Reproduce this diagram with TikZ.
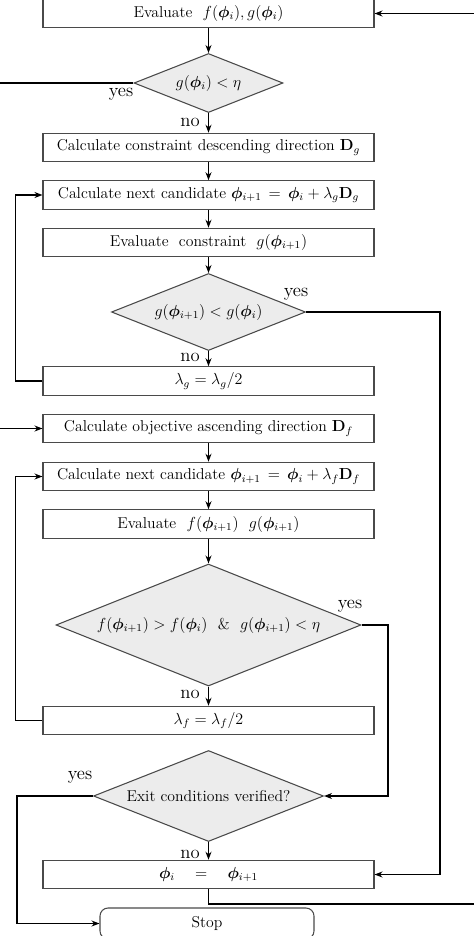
\documentclass[tikz,border=0pt]{standalone}
\usepackage{amsmath,bm}
\usetikzlibrary{shapes.geometric,arrows.meta}
\definecolor{boxgray}{HTML}{4A4A4A}
\definecolor{dfill}{HTML}{ECECEC}
\begin{document}
\begin{tikzpicture}[x=0.75pt,y=-0.75pt,
  font=\fontsize{11.8}{14}\selectfont,
  stepbox/.style={draw=boxgray,line width=0.8pt,fill=white,minimum width={331*0.75pt},minimum height={28.5*0.75pt},inner sep=0pt},
  decbox/.style={diamond,draw=boxgray,line width=0.8pt,fill=dfill,inner sep=0pt},
  conn/.style={line width=0.9pt,black},
  arr/.style={conn,-{Stealth[length=6pt,width=4.5pt]}},
  lbl/.style={font=\fontsize{14}{16}\selectfont}]
\useasboundingbox (0,0) rectangle (474,936);

\node[stepbox] (b1) at (208.5,13.5) {Evaluate\ \ $f(\bm{\phi}_i),g(\bm{\phi}_i)$};
\node[decbox,aspect=2.5,minimum width={149*0.75pt},minimum height={59*0.75pt}] (d1) at (208.5,83) {$g(\bm{\phi}_i)<\eta$};
\node[stepbox] (b2) at (208.5,147.5) {Calculate constraint descending direction $\mathbf{D}_g$};
\node[stepbox] (b3) at (208.5,195) {Calculate next candidate $\bm{\phi}_{i+1}\,=\,\bm{\phi}_i+\lambda_g\mathbf{D}_g$};
\node[stepbox] (b4) at (208.5,242.5) {Evaluate\ \ constraint\ \ $g(\bm{\phi}_{i+1})$};
\node[decbox,aspect=2.5,minimum width={194*0.75pt},minimum height={77*0.75pt}] (d2) at (208.5,312) {$g(\bm{\phi}_{i+1})<g(\bm{\phi}_i)$};
\node[stepbox] (b5) at (208.5,381) {$\lambda_g=\lambda_g/2$};
\node[stepbox] (b6) at (208.5,428.5) {Calculate objective ascending direction $\mathbf{D}_f$};
\node[stepbox] (b7) at (208.5,476.5) {Calculate next candidate $\bm{\phi}_{i+1}\,=\,\bm{\phi}_i+\lambda_f\mathbf{D}_f$};
\node[stepbox] (b8) at (208.5,524) {Evaluate\ \ $f(\bm{\phi}_{i+1})$\ \ $g(\bm{\phi}_{i+1})$};
\node[decbox,aspect=2.5,minimum width={305*0.75pt},minimum height={122*0.75pt}] (d3) at (208.5,625) {$f(\bm{\phi}_{i+1})>f(\bm{\phi}_i)$\ \ \&\ \ $g(\bm{\phi}_{i+1})<\eta$};
\node[stepbox] (b9) at (208.5,720.5) {$\lambda_f=\lambda_f/2$};
\node[decbox,aspect=2.53,minimum width={230*0.75pt},minimum height={91*0.75pt}] (d4) at (208.5,796) {Exit conditions verified?};
\node[stepbox] (b10) at (208.5,874.5) {$\bm{\phi}_i\quad=\quad\bm{\phi}_{i+1}$};
\node[draw=boxgray,line width=0.8pt,rounded corners=6pt,minimum width={214*0.75pt},minimum height={31*0.75pt},inner sep=0pt] (stop) at (207,923.5) {Stop};

\coordinate (rin) at (474,13.5);
\coordinate (rout) at (474,904);
\coordinate (lout) at (0,83);
\coordinate (lin) at (0,428.5);

\draw[arr] (rin) -- (b1);
\draw[arr] (b1) -- (d1);
\draw[conn] (d1.west) -- (lout);
\draw[arr] (lin) -- (b6);
\draw[arr] (d1) -- (b2);
\draw[arr] (b2) -- (b3);
\draw[arr] (b3) -- (b4);
\draw[arr] (b4) -- (d2);
\draw[arr] (d2) -- (b5);
\draw[arr] (b5.west) -- ++(-27,0) |- (b3.west);
\draw[arr] (d2.east) -- (440,312) |- (b10.east);
\draw[arr] (b6) -- (b7);
\draw[arr] (b7) -- (b8);
\draw[arr] (b8) -- (d3);
\draw[arr] (d3) -- (b9);
\draw[arr] (b9.west) -- ++(-27,0) |- (b7.west);
\draw[arr] (d3.east) -- (388,625) |- (d4.east);
\draw[arr] (d4) -- (b10);
\draw[arr] (d4.west) -- (17,796) |- (stop.west);
\draw[conn] (b10.south) |- (rout);

\node[lbl] (y1) at (121,94) {yes};
\node[lbl] (n1) at (190,122) {no};
\node[lbl] (y2) at (296,294) {yes};
\node[lbl] (n2) at (190,357) {no};
\node[lbl] (y3) at (350,606) {yes};
\node[lbl] (n3) at (190,694) {no};
\node[lbl] (y4) at (80,777) {yes};
\node[lbl] (n4) at (190,854) {no};
\end{tikzpicture}
\end{document}
